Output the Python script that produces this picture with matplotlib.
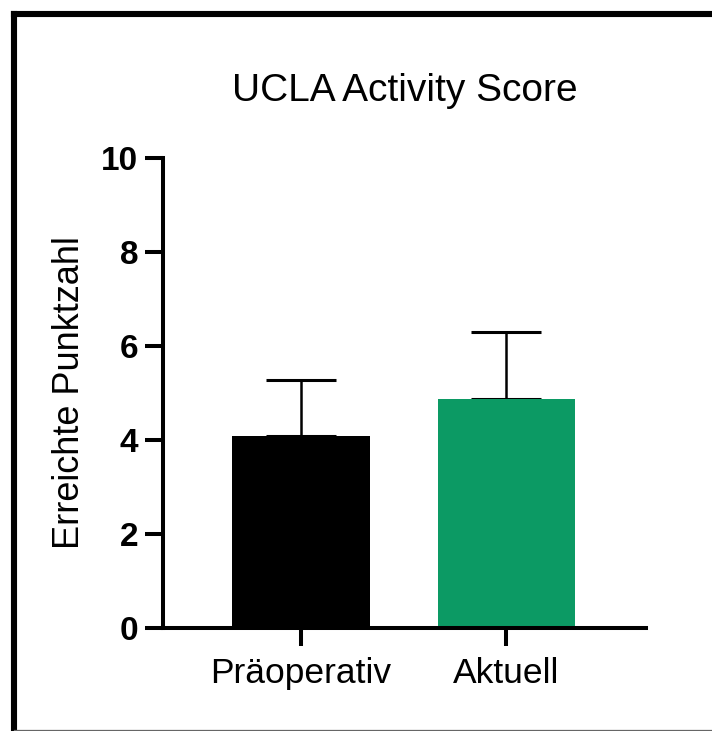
import matplotlib.pyplot as plt
from matplotlib.lines import Line2D

plt.rcParams['font.family'] = ['Liberation Sans', 'DejaVu Sans']

groups = ["Präoperativ", "Aktuell"]
means = [4.09, 4.87]
sd_upper = [1.19, 1.43]
colors = ["#000000", "#0C9A64"]
yticks = [0, 2, 4, 6, 8, 10]

fig = plt.figure(figsize=(7.12, 7.31), dpi=100)
ax = fig.add_axes([0.229, 0.1409, 0.678, 0.643])

x = [0, 1]
ax.bar(x, means, width=0.67, color=colors, zorder=2)
ax.errorbar(x, means, yerr=[[0, 0], sd_upper], fmt="none", ecolor="black",
            elinewidth=1.8, capsize=25, capthick=2.2, zorder=1)

ax.set_xlim(-0.6715, 1.678)
ax.set_ylim(0, 10)
ax.set_yticks(yticks)
ax.set_xticks(x)
ax.set_xticklabels(groups, fontsize=25.5)
for lab in ax.get_yticklabels():
    lab.set_fontweight("bold")
    lab.set_fontsize(24)

ax.set_ylabel("Erreichte Punktzahl", fontsize=26, labelpad=10)
ax.set_title("UCLA Activity Score", fontsize=28, pad=41)

for side in ["top", "right"]:
    ax.spines[side].set_visible(False)
for side in ["left", "bottom"]:
    ax.spines[side].set_linewidth(2.9)
ax.tick_params(axis="both", width=2.9, length=13, pad=5)
ax.tick_params(axis="x", pad=8)

# frame around the figure
fw = 4.4
fig.add_artist(Line2D([14 / 712, 1.0], [1 - 13.5 / 731, 1 - 13.5 / 731],
                      transform=fig.transFigure, color="black", lw=fw,
                      solid_capstyle="projecting"))
fig.add_artist(Line2D([14 / 712, 14 / 712], [1 - 13.5 / 731, 0.0],
                      transform=fig.transFigure, color="black", lw=fw,
                      solid_capstyle="projecting"))
fig.add_artist(Line2D([14 / 712, 1.0], [1.5 / 731, 1.5 / 731],
                      transform=fig.transFigure, color="#666666", lw=0.9))

fig.savefig("out.png", dpi=100)
